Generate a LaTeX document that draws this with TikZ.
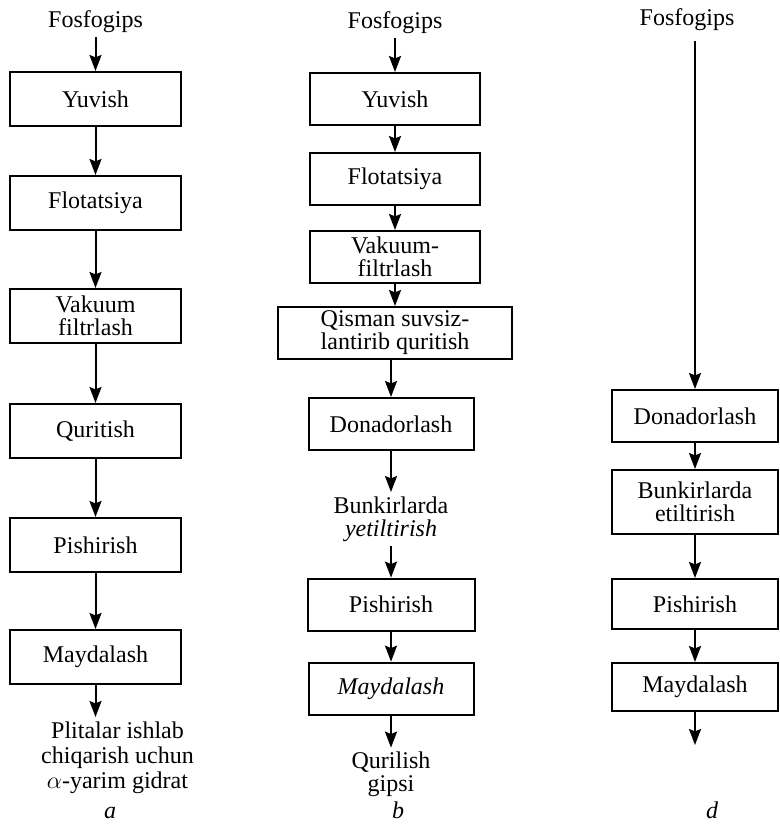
\documentclass[tikz,border=0pt]{standalone}
\usepackage{fontspec}
\setmainfont{Liberation Serif}
\usetikzlibrary{positioning,arrows.meta}

\newcommand{\fsz}{\fontsize{12}{11.5}\selectfont}

\begin{document}
\begin{tikzpicture}[
    x=0.5pt, y=-0.5pt,
    box/.style={rectangle, draw, line width=1pt, align=center, font=\fsz,
        minimum width=85pt, minimum height=26pt, inner sep=1pt},
    lbl/.style={align=center, font=\fsz, inner sep=2pt},
    tag/.style={font=\fsz\itshape, anchor=base},
    arrow/.style={-{Stealth[length=8pt, width=6pt, inset=1.2pt]}, line width=1pt}
]
\useasboundingbox (0,0) rectangle (780,824);

% Column a
\node[box, minimum width=85.5pt, minimum height=27pt] (yuv1) at (95.5,99) {Yuvish};
\node[lbl, above=17pt of yuv1] (fos1) {Fosfogips};
\node[box, minimum width=85.5pt, minimum height=27pt, below=24pt of yuv1] (flot1) {Flotatsiya};
\node[box, minimum width=85.5pt, minimum height=27pt, below=28.5pt of flot1] (vak1) {Vakuum\\filtrlash};
\node[box, minimum width=85.5pt, minimum height=27pt, below=29.5pt of vak1] (qur1) {Quritish};
\node[box, minimum width=85.5pt, minimum height=27pt, below=29pt of qur1] (pish1) {Pishirish};
\node[box, minimum width=85.5pt, minimum height=27pt, below=28pt of pish1] (may1) {Maydalash};
\node[lbl, below=16pt of may1, xshift=11pt, font=\fontsize{12}{12.5}\selectfont] (out1)
    {Plitalar ishlab\\chiqarish uchun\\$\alpha$-yarim gidrat};
\node[tag] (taga) at (110,818) {a};

% Column b
\node[box] (yuv2) at (395,99) {Yuvish};
\node[lbl, above=17pt of yuv2] (fos2) {Fosfogips};
\node[box, below=13pt of yuv2] (flot2) {Flotatsiya};
\node[box, below=12pt of flot2] (vak2) {Vakuum-\\filtrlash};
\node[box, minimum width=117pt, below=11pt of vak2] (qis2) {Qisman suvsiz-\\lantirib quritish};
\node[box, minimum width=82.5pt, below=18.5pt of qis2, xshift=-2pt] (don2) {Donadorlash};
\node[lbl, below=20.5pt of don2] (bunk2) {Bunkirlarda\\\textit{yetiltirish}};
\node[box, minimum width=83.5pt, below=16pt of bunk2] (pish2) {Pishirish};
\node[box, minimum width=82.5pt, below=15pt of pish2] (may2) {\textit{Maydalash}};
\node[lbl, below=16pt of may2] (out2) {Qurilish\\gipsi};
\node[tag] (tagb) at (398,818) {b};

% Column d
\node[box, minimum width=83pt] (don3) at (695,416) {Donadorlash};
\node[lbl] (fos3) at (687,20) {Fosfogips};
\node[box, minimum width=83pt, minimum height=32pt, below=13pt of don3] (bunk3) {Bunkirlarda\\etiltirish};
\node[box, minimum width=83pt, minimum height=25pt, below=21.5pt of bunk3] (pish3) {Pishirish};
\node[box, minimum width=83pt, minimum height=24pt, below=16pt of pish3] (may3) {Maydalash};
\coordinate[below=16.5pt of may3.south] (end3);
\node[tag] (tagd) at (712,818) {d};

% Arrows
\draw[arrow] (fos1) -- (yuv1);
\draw[arrow] (yuv1) -- (flot1);
\draw[arrow] (flot1) -- (vak1);
\draw[arrow] (vak1) -- (qur1);
\draw[arrow] (qur1) -- (pish1);
\draw[arrow] (pish1) -- (may1);
\draw[arrow] (may1.south) -- (may1.south |- out1.north);

\draw[arrow] (fos2) -- (yuv2);
\draw[arrow] (yuv2) -- (flot2);
\draw[arrow] (flot2) -- (vak2);
\draw[arrow] (vak2) -- (qis2);
\draw[arrow] (qis2.south -| don2.north) -- (don2.north);
\draw[arrow] (don2) -- (bunk2);
\draw[arrow] (bunk2) -- (pish2);
\draw[arrow] (pish2) -- (may2);
\draw[arrow] (may2) -- (out2);

\draw[arrow] (don3.north |- fos3.south) ++(0,6) -- (don3.north);
\draw[arrow] (don3) -- (bunk3);
\draw[arrow] (bunk3) -- (pish3);
\draw[arrow] (pish3) -- (may3);
\draw[arrow] (may3.south) -- (end3);

\end{tikzpicture}
\end{document}
